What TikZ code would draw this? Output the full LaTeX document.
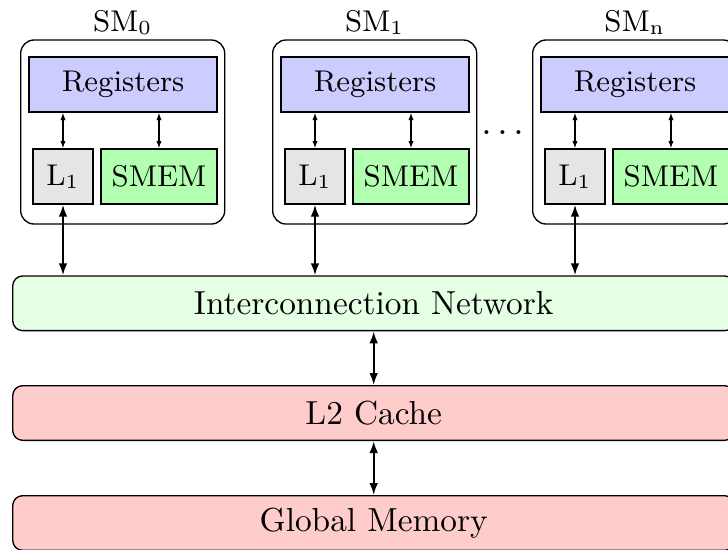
\documentclass[tikz,border=0pt]{standalone}
\usetikzlibrary{arrows.meta}
\begin{document}
\begin{tikzpicture}[x=0.3pt,y=-0.3pt,
  smbox/.style={draw, rounded corners=4pt, minimum width=61.2pt, minimum height=55.2pt, inner sep=0pt},
  unit/.style={draw, inner sep=0pt, minimum height=16.5pt, font=\small},
  regbox/.style={unit, fill=blue!20, minimum width=56.4pt},
  lonebox/.style={unit, fill=gray!20, minimum width=18pt},
  smembox/.style={unit, fill=green!30, minimum width=34.8pt},
  wide/.style={draw, rounded corners=3pt, minimum width=216.6pt, minimum height=16.4pt, inner sep=0pt},
  bigarrow/.style={semithick, {Latex[length=3.6pt,width=2.6pt]}-{Latex[length=3.6pt,width=2.6pt]}},
  smallarrow/.style={line width=0.4pt, {Latex[length=2.2pt,width=1.6pt]}-{Latex[length=2.2pt,width=1.6pt]}},
]
\useasboundingbox (0,0) rectangle (728,549);
\clip (0,0) rectangle (728,549);

% shared memory hierarchy
\node[wide, fill=green!10] (net) at (373.7,303.3) {Interconnection Network};
\node[wide, fill=red!20] (l2) at (373.7,413) {L2 Cache};
\node[wide, fill=red!20] (gm) at (373.7,523) {Global Memory};
\draw[bigarrow] (net.south) -- (l2.north);
\draw[bigarrow] (l2.south) -- (gm.north);

% streaming multiprocessors
\foreach \i/\lx in {0/20.7, 1/272.7, n/532.7} {
  \node[smbox] (sm\i) at (\lx+102,132) {};
  \node[anchor=base, font=\small] (title\i) at (\lx+102,31.5) {SM$_{\mathrm{\i}}$};
  \node[regbox] (reg\i) at (\lx+102.3,84.5) {Registers};
  \node[lonebox] (lone\i) at (\lx+42.3,176.5) {L$_1$};
  \node[smembox] (smem\i) at (\lx+138.3,176.5) {SMEM};
  \draw[smallarrow] (reg\i.south -| lone\i.north) -- (lone\i.north);
  \draw[smallarrow] (reg\i.south -| smem\i.north) -- (smem\i.north);
  \draw[bigarrow] (lone\i.south) -- (lone\i.south |- net.north);
}

% ellipsis between the multiprocessors
\node[anchor=base, inner sep=0pt, font=\fontsize{12pt}{14pt}\selectfont] (dots) at (502.7,134) {.\kern1.6pt.\kern1.6pt.};
\end{tikzpicture}
\end{document}
